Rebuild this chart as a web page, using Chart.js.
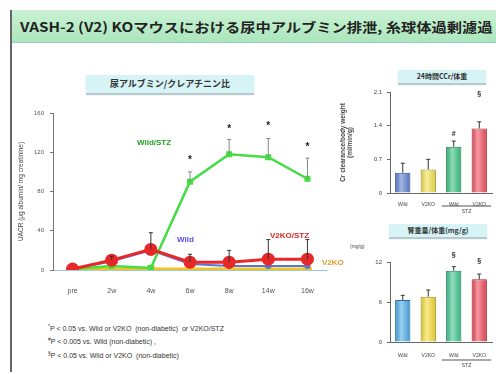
<!DOCTYPE html>
<html>
<head>
<meta charset="utf-8">
<script src="https://cdn.jsdelivr.net/npm/chart.js@4/dist/chart.umd.min.js"></script>
<style>
  body{margin:0;background:#fff;font-family:"Liberation Sans","Noto Sans CJK JP",sans-serif;}
  #page{position:relative;width:496px;height:374px;overflow:hidden;background:#fff;}
  .abs{position:absolute;white-space:nowrap;}
  canvas{position:absolute;}
  .box{position:absolute;background:#d6f3f6;box-shadow:0 2px 1px #b8c8cc;text-align:center;font-weight:bold;color:#333;font-family:"Noto Sans CJK JP",sans-serif;}
  .lbl{position:absolute;font-weight:bold;font-size:8px;white-space:nowrap;}
</style>
</head>
<body>
<div id="page">
  <div class="abs" style="left:10px;top:10px;width:2px;height:362px;background:#666"></div>
  <div class="abs" style="left:12px;top:10px;width:484px;height:32px;background:linear-gradient(#c9f2d3,#abe6bc);border-bottom:1px solid #9cc;"></div>
  <div id="title" class="abs" style="left:20px;top:17px;font-weight:bold;font-size:13px;color:#222;font-family:'Noto Sans CJK JP',sans-serif;transform-origin:0 0;">VASH-2 (V2) KOマウスにおける尿中アルブミン排泄, 糸球体過剰濾過</div>

  <div class="box" style="left:86px;top:75px;width:168px;height:18px;line-height:18px;font-size:9px;">尿アルブミン/クレアチニン比</div>
  <div class="box" style="left:398px;top:70px;width:88px;height:13px;line-height:13px;font-size:7px;">24時間CCr/体重</div>
  <div class="box" style="left:389px;top:224px;width:98px;height:13px;line-height:13px;font-size:7px;">腎重量/体重(mg/g)</div>
  <div class="abs" style="left:350px;top:243px;font-size:5px;color:#444;">(mg/g)</div>

  <canvas id="c1" width="335" height="200" style="left:0;top:100px"></canvas>
  <canvas id="c2" width="166" height="135" style="left:330px;top:80px"></canvas>
  <canvas id="c3" width="166" height="124" style="left:330px;top:250px"></canvas>

  <div class="lbl" style="left:137px;top:138px;color:#22a022">Wild/STZ</div>
  <div class="lbl" style="left:177px;top:235px;color:#5050e8">Wild</div>
  <div class="lbl" style="left:270px;top:231px;color:#e02828">V2KO/STZ</div>
  <div class="lbl" style="left:322px;top:258px;color:#d8a030">V2KO</div>

  <div class="abs" style="left:48px;top:321px;font-size:7px;color:#333;line-height:11px;">
    <div><sup style="font-size:5px">*</sup>P &lt; 0.05 vs. Wild or V2KO &nbsp;(non-diabetic) &nbsp;or V2KO/STZ</div>
    <div><sup style="font-size:5px">#</sup>P &lt; 0.005 vs. Wild (non-diabetic) ,</div>
    <div><sup style="font-size:5px">§</sup>P &lt; 0.05 vs. Wild or V2KO &nbsp;(non-diabetic)</div>
  </div>
</div>
<script>
// 尿アルブミン/クレアチニン比
const weeks = ['pre', '2w', '4w', '6w', '8w', '14w', '16w']
const uacrTicks = [0, 40, 80, 120, 160]
const wildStz = [1, 4, 2, 90, 118, 115, 93]
const wildStzErr = [null, null, null, 100, 133, 134, 114]
const wildStzStar = [null, null, null, 112, 143, 147, 125]
const v2koStz = [1, 10, 21, 8, 8, 11, 11]
const v2koStzErr = [null, 14, 38, 16, 20, 31, 31]
const wild = [1, 9, 20, 6, 4, 4, 4]
const v2ko = [1, 1, 1, 1, 1, 1, 1]

// bar charts
const groups = ['Wild', 'V2KO', 'Wild', 'V2KO']
const ccrTicks = [0, 0.7, 1.4, 2.1]
const ccr = [0.42, 0.49, 0.96, 1.34]
const ccrErr = [0.62, 0.7, 1.08, 1.48]
const ccrMark = ['', '', '#', '§']
const ccrMarkAt = [null, null, 1.22, 2.05]
const kwTicks = [0, 6, 12]
const kw = [6.3, 6.8, 10.7, 9.4]
const kwErr = [7.0, 7.8, 11.3, 10.2]
const kwMark = ['', '', '§', '§']
const kwMarkAt = [null, null, 13.1, 12.1]

// fit title width
let tt = document.getElementById('title')
tt.style.transform = `scaleX(${473 / tt.offsetWidth})`

function errPlugin(sets){
  return {
    id: 'err',
    afterDatasetsDraw(chart){
      let c = chart.ctx, sx = chart.scales.x, sy = chart.scales.y
      for(const s of sets){
        c.save()
        c.strokeStyle = s.color
        c.lineWidth = 1
        s.top.forEach((v, i) => {
          if(v == null) return
          let x = sx.getPixelForValue(i)
          let y0 = sy.getPixelForValue(s.base[i]), y1 = sy.getPixelForValue(v)
          c.beginPath()
          c.moveTo(x, y0); c.lineTo(x, y1)
          c.moveTo(x - s.cap, y1); c.lineTo(x + s.cap, y1)
          c.stroke()
        })
        if(s.mark){
          c.fillStyle = '#222'
          c.font = 'bold ' + s.markSize + 'px "Liberation Sans"'
          c.textAlign = 'center'
          c.textBaseline = 'middle'
          s.markAt.forEach((v, i) => {
            if(v == null) return
            c.fillText(s.mark[i], sx.getPixelForValue(i), sy.getPixelForValue(v))
          })
        }
        c.restore()
      }
    }
  }
}

function stzPlugin(offset){
  return {
    id: 'stz',
    afterDraw(chart){
      let c = chart.ctx, sx = chart.scales.x
      let x0 = sx.getPixelForValue(2) - 12, x1 = sx.getPixelForValue(3) + 12
      let y = chart.chartArea.bottom + offset
      c.save()
      c.strokeStyle = '#555'
      c.lineWidth = 1
      c.beginPath(); c.moveTo(x0, y); c.lineTo(x1, y); c.stroke()
      c.fillStyle = '#444'
      c.font = '5px "Liberation Sans"'
      c.textAlign = 'center'
      c.fillText('STZ', (x0 + x1) / 2, y + 7)
      c.restore()
    }
  }
}

function shade(hex, f){
  let n = parseInt(hex.slice(1), 16)
  let r = n >> 16, g = (n >> 8) & 255, b = n & 255
  let m = v => Math.round(f > 0 ? v + (255 - v) * f : v * (1 + f))
  return `rgb(${m(r)},${m(g)},${m(b)})`
}

function glossy(cols){
  return ctx => {
    let ch = ctx.chart, sx = ch.scales.x
    let col = cols[ctx.dataIndex]
    if(!sx || !sx.width) return col
    let cx = sx.getPixelForValue(ctx.dataIndex)
    let w = sx.width / groups.length * 0.6 / 2
    let g = ch.ctx.createLinearGradient(cx - w, 0, cx + w, 0)
    g.addColorStop(0, shade(col, -0.15))
    g.addColorStop(0.4, shade(col, 0.45))
    g.addColorStop(1, shade(col, -0.1))
    return g
  }
}

Chart.defaults.font.family = '"Liberation Sans", "Noto Sans CJK JP"'
Chart.defaults.color = '#444'

new Chart(document.getElementById('c1'), {
  type: 'line',
  data: {
    labels: weeks,
    datasets: [
      {label: 'V2KO/STZ', data: v2koStz, borderColor: '#e82828', backgroundColor: '#e82828', borderWidth: 3, pointRadius: 5, order: 1},
      {label: 'Wild/STZ', data: wildStz, borderColor: '#44dd44', backgroundColor: '#44dd44', borderWidth: 2.5, pointRadius: 2.5, pointStyle: 'rect', order: 2},
      {label: 'Wild', data: wild, borderColor: '#5577dd', backgroundColor: '#5577dd', borderWidth: 2, pointRadius: 2, order: 3},
      {label: 'V2KO', data: v2ko, borderColor: '#f2c420', backgroundColor: '#f2c420', borderWidth: 3, pointRadius: 3, order: 4}
    ]
  },
  options: {
    responsive: false,
    animation: false,
    devicePixelRatio: 1,
    layout: {padding: {top: 13, right: 8, left: 0, bottom: 0}},
    plugins: {legend: {display: false}, tooltip: {enabled: false}},
    scales: {
      x: {
        offset: true,
        afterFit: s => { s.height = 30 },
        grid: {display: false},
        border: {color: '#9cc8e0', width: 1, dash: [3, 2]},
        ticks: {font: {size: 7}, padding: 9, color: '#555'}
      },
      y: {
        min: 0, max: 160,
        afterFit: s => { s.width = 53 },
        afterBuildTicks: s => { s.ticks = uacrTicks.map(v => ({value: v})) },
        grid: {drawOnChartArea: false, tickLength: 3, color: '#777'},
        border: {color: '#777'},
        ticks: {font: {size: 6}, padding: 6, color: '#555'},
        title: {display: true, text: 'UACR (μg albumin/ mg creatinine)', font: {size: 6.5}, color: '#444', padding: {top: 17, bottom: 0}}
      }
    }
  },
  plugins: [errPlugin([
    {top: v2koStzErr, base: v2koStz, color: '#333', cap: 2},
    {top: wildStzErr, base: wildStz, color: '#888', cap: 2, mark: wildStzErr.map(v => v == null ? '' : '*'), markAt: wildStzStar, markSize: 10}
  ])]
})

function barChart(id, vals, errs, ticks, cols, title, marks, markAt, stzOff){
  return new Chart(document.getElementById(id), {
    type: 'bar',
    data: {
      labels: groups,
      datasets: [{data: vals, backgroundColor: glossy(cols), borderColor: cols.map(c => shade(c, -0.35)), borderWidth: 1, barPercentage: 0.6, categoryPercentage: 1}]
    },
    options: {
      responsive: false,
      animation: false,
      devicePixelRatio: 1,
      layout: {padding: {top: 12, right: 4, left: 0, bottom: 0}},
      plugins: {legend: {display: false}, tooltip: {enabled: false}},
      scales: {
        x: {
          afterFit: s => { s.height = stzOff.h },
          grid: {display: false},
          border: {color: '#666'},
          ticks: {font: {size: 5}, padding: stzOff.p, color: '#444'}
        },
        y: {
          min: 0, max: ticks[ticks.length - 1],
          afterFit: s => { s.width = 60 },
          afterBuildTicks: s => { s.ticks = ticks.map(v => ({value: v})) },
          grid: {drawOnChartArea: false, tickLength: 3, color: '#666'},
          border: {color: '#666'},
          ticks: {font: {size: 6}, padding: 5, color: '#444'},
          title: title
        }
      }
    },
    plugins: [
      errPlugin([{top: errs, base: vals, color: '#333', cap: 2, mark: marks, markAt: markAt, markSize: 7}]),
      stzPlugin(stzOff.y)
    ]
  })
}

barChart('c2', ccr, ccrErr, ccrTicks, ['#5a7ad0', '#f2e04a', '#34c07a', '#f04a5a'],
  {display: true, text: ['Cr clearance/body weight', '(ml/min/g)'], font: {size: 6.5, weight: 'bold'}, color: '#444', padding: {top: 9, bottom: 0}},
  ccrMark, ccrMarkAt, {h: 22, y: 13, p: 1})

barChart('c3', kw, kwErr, kwTicks, ['#48a8e8', '#f6d830', '#38c28a', '#ee4454'],
  {display: false},
  kwMark, kwMarkAt, {h: 32, y: 18, p: 3})
</script>
</body>
</html>
